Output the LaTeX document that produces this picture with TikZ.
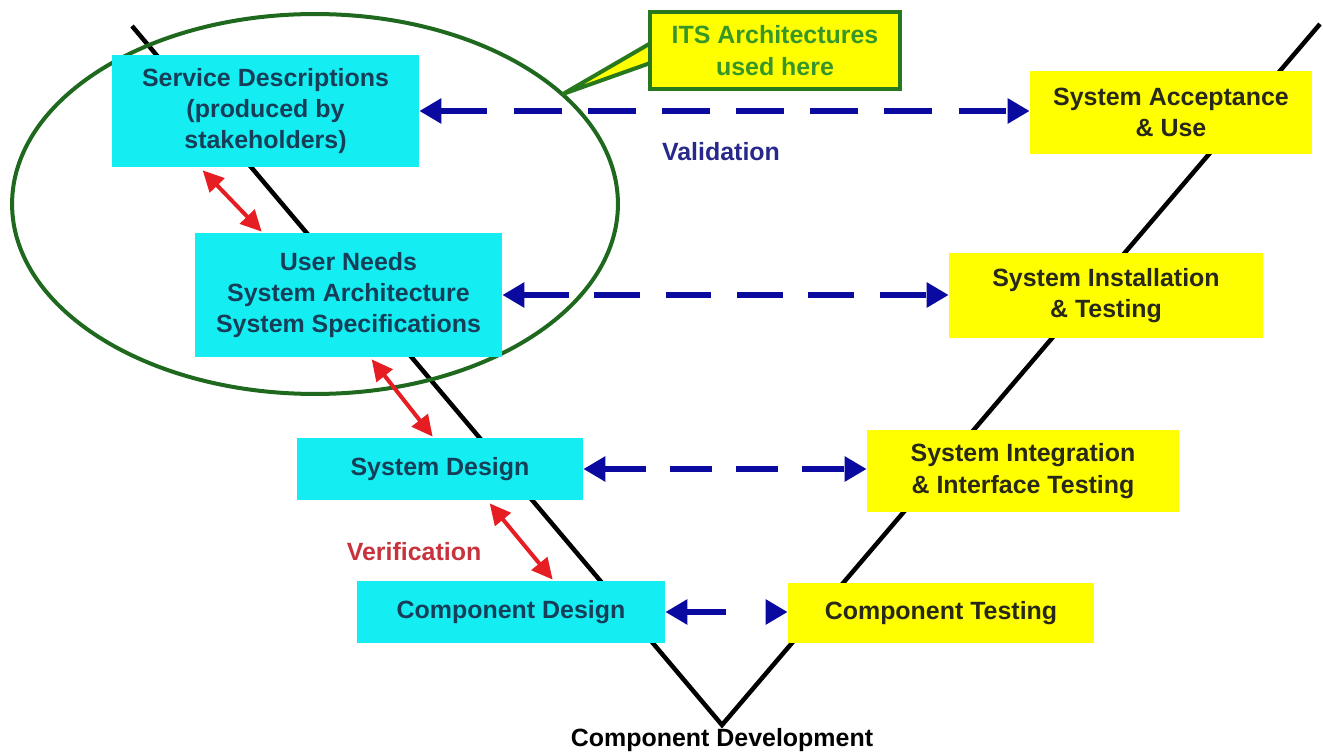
\documentclass[tikz,border=0pt]{standalone}
\usepackage{fontspec}
\setmainfont{Liberation Sans}
\usetikzlibrary{arrows.meta,calc}

\definecolor{boxcyan}{RGB}{20,238,242}
\definecolor{boxyellow}{RGB}{255,255,0}
\definecolor{cyantext}{RGB}{22,62,88}
\definecolor{yellowtext}{RGB}{40,40,25}
\definecolor{vblue}{RGB}{10,10,160}
\definecolor{vbluetext}{RGB}{40,40,140}
\definecolor{vred}{RGB}{230,30,35}
\definecolor{vredtext}{RGB}{200,50,60}
\definecolor{ellgreen}{RGB}{30,105,30}
\definecolor{callgreen}{RGB}{40,120,30}
\definecolor{calltext}{RGB}{55,150,40}

\begin{document}
\begin{tikzpicture}[x=0.02cm,y=-0.02cm,
  every node/.style={font=\fontsize{14.2}{17.8}\selectfont\bfseries, inner sep=0pt, align=center},
  design/.style={fill=boxcyan, text=cyantext},
  test/.style={fill=boxyellow, text=yellowtext},
  vee/.style={line width=0.09cm, line join=miter},
  verif/.style={vred, line width=0.08cm, >={Triangle[length=0.42cm,width=0.4cm]}, <->},
  valid/.style={vblue, line width=0.11cm, >={Triangle[length=0.44cm,width=0.48cm]}, <->},
  callout/.style={fill=boxyellow, draw=callgreen, line width=0.08cm, text=calltext},
]
% canvas
\fill[white] (0,0) rectangle (1323,753);
\useasboundingbox (0,0) rectangle (1323,753);

% the V of the life cycle
\coordinate (vtl) at (132,26);
\coordinate (vbot) at (722,725);
\coordinate (vtr) at (1320,24);
\draw[vee] (vtl) -- (vbot) -- (vtr);

% region where ITS architectures apply
\draw[ellgreen, line width=0.08cm] (315,204) ellipse [x radius=6.06cm, y radius=3.8cm];

% callout pointer
\coordinate (tip) at (563,94);
\coordinate (pa) at (656,40);
\coordinate (pb) at (656,61);
\filldraw[fill=boxyellow, draw=callgreen, line width=0.08cm, line join=round] (pa) -- (tip) -- (pb) -- cycle;
\node[callout, minimum width=5cm, minimum height=1.54cm] (its) at (775,50.5) {ITS Architectures\\used here};

% left leg: definition and design
\node[design, minimum width=6.14cm, minimum height=2.24cm] (sd) at (265.5,111) {Service Descriptions\\(produced by\\stakeholders)};
\node[design, minimum width=6.14cm, minimum height=2.48cm] (un) at (348.5,295) {User Needs\\System Architecture\\System Specifications};
\node[design, minimum width=5.72cm, minimum height=1.24cm] (sysd) at (440,469) {System Design};
\node[design, minimum width=6.16cm, minimum height=1.24cm] (cd) at (511,612) {Component Design};

% right leg: integration and testing
\node[test, minimum width=5.64cm, minimum height=1.66cm] (sa) at (1171,112.5) {System Acceptance\\\& Use};
\node[test, minimum width=6.28cm, minimum height=1.7cm] (si) at (1106,295.5) {System Installation\\\& Testing};
\node[test, minimum width=6.24cm, minimum height=1.64cm] (sit) at (1023,471) {System Integration\\\& Interface Testing};
\node[test, minimum width=6.12cm, minimum height=1.2cm] (ct) at (941,613) {Component Testing};

% validation links
\draw[valid, dash pattern=on 0.95cm off 0.532cm] (sd.east) -- (sd.east -| sa.west);
\draw[valid, dash pattern=on 0.914cm off 0.514cm] (un.east) -- (un.east -| si.west);
\draw[valid, dash pattern=on 0.844cm off 0.474cm] (sysd.east) -- (sysd.east -| sit.west);
\draw[valid, dash pattern=on 0.8cm off 0.8cm] (cd.east) -- (cd.east -| ct.west);

% verification links
\draw[verif] ($(sd.south west)+(91,3)$) -- ($(un.north west)+(67,-1)$);
\draw[verif] ($(un.south west)+(177,2)$) -- ($(sysd.north west)+(136,-1)$);
\draw[verif] ($(sysd.south west)+(193,3)$) -- ($(cd.north west)+(196,-1)$);

% labels
\node[text=vbluetext] (vlab) at (721,152) {Validation};
\node[text=vredtext] (verlab) at (414,552) {Verification};
\node[text=black] (cdev) at (722,740) {Component Development};
\end{tikzpicture}
\end{document}
